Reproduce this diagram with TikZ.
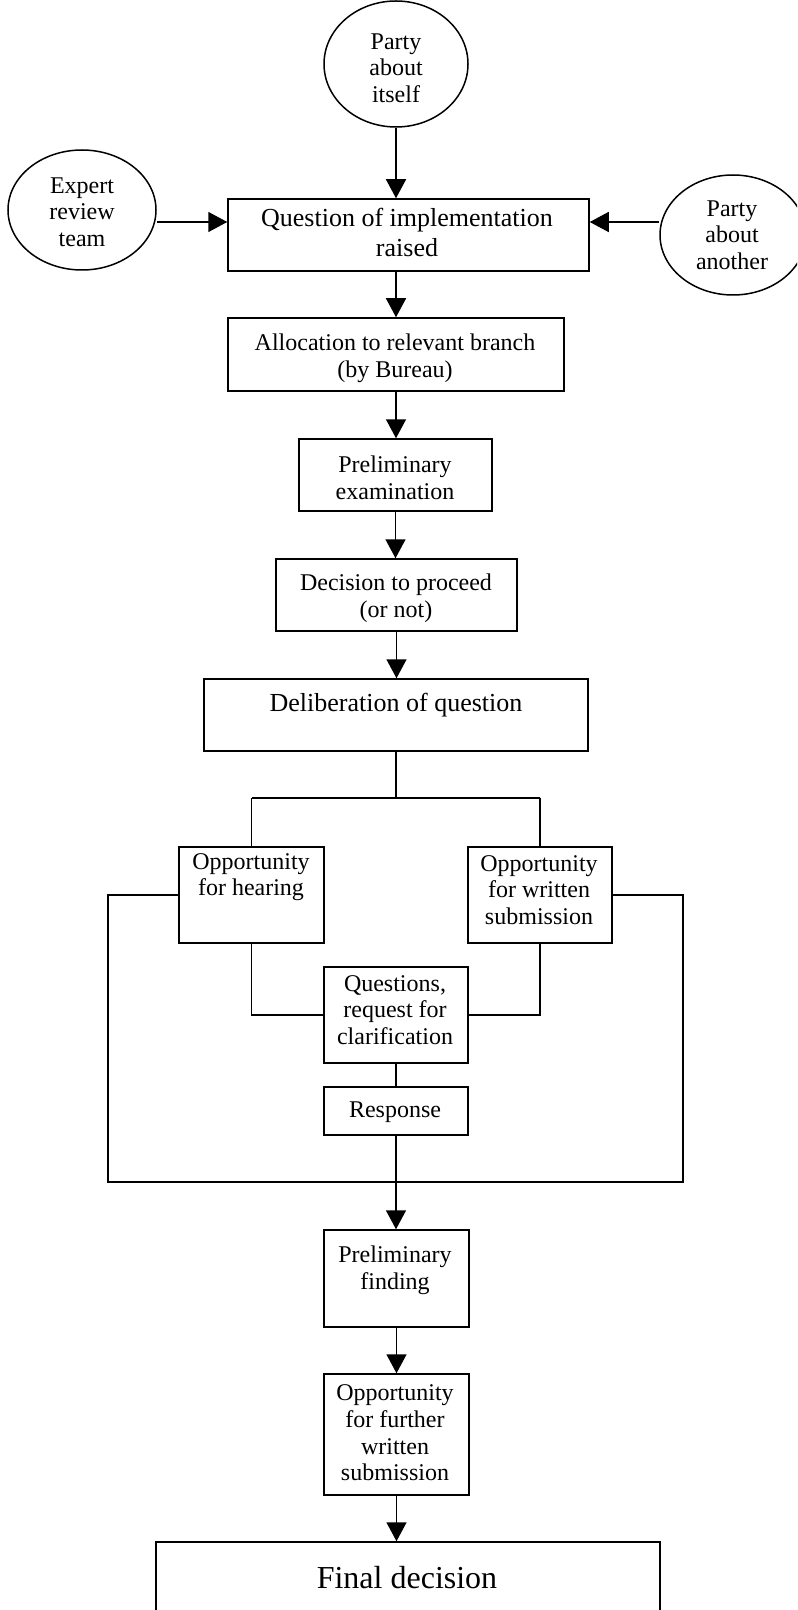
\documentclass[tikz,border=0pt]{standalone}
\usepackage{fontspec}
\setmainfont{Liberation Serif}
\usetikzlibrary{shapes.geometric,arrows.meta,fit,calc}
\begin{document}
\begin{tikzpicture}[x=0.5pt,y=-0.5pt,
  lw/.style={line width=0.75pt},
  box/.style={draw,lw,rectangle,inner sep=0pt},
  oval/.style={draw,lw,ellipse,inner sep=0pt},
  txt/.style={align=center,inner sep=0pt,font=\fontsize{12}{13.35}\selectfont},
  bigtxt/.style={align=center,inner sep=0pt,font=\fontsize{13}{15}\selectfont},
  hugetxt/.style={align=center,inner sep=0pt,font=\fontsize{16}{18}\selectfont},
  conn/.style={draw,lw},
  arr/.style={draw,lw,-{Triangle[width=10pt,length=9.5pt]}}]
\clip (0,0) rectangle (797,1610);
\fill[white] (0,0) rectangle (797,1610);

% sources
\node[oval,minimum width=72pt,minimum height=63pt] (pi) at (396,64) {};
\node[txt] (pit) at (396,68) {Party\\about\\itself};
\node[oval,minimum width=74pt,minimum height=60pt] (ex) at (82,210) {};
\node[txt] (ext) at (82,212) {Expert\\review\\team};
\node[oval,minimum width=73pt,minimum height=60pt] (an) at (733,235) {};
\node[txt] (ant) at (732,235) {Party\\about\\another};

% main boxes
\node[box,fit={(228,199) (589,271)}] (q) {};
\node[bigtxt] (qt) at (407,232) {Question of implementation\\raised};
\node[box,fit={(228,318) (564,391)}] (al) {};
\node[txt] (alt) at (395,358) {Allocation to relevant branch\\(by Bureau)};
\node[box,fit={(299,439) (492,511)}] (pe) {};
\node[txt] (pet) at (395,478) {Preliminary\\examination};
\node[box,fit={(276,559) (517,631)}] (de) {};
\node[txt] (det) at (396,598) {Decision to proceed\\(or not)};
\node[box,fit={(204,679) (588,751)}] (dl) {};
\node[bigtxt] (dlt) at (396,705) {Deliberation of question};

\node[box,fit={(179,847) (324,943)}] (he) {};
\node[txt] (het) at (251,877) {Opportunity\\for hearing};
\node[box,fit={(468,847) (612,943)}] (wr) {};
\node[txt] (wrt) at (539,890) {Opportunity\\for written\\submission};
\node[box,fit={(324,967) (468,1063)}] (qs) {};
\node[txt] (qst) at (395,1010) {Questions,\\request for\\clarification};
\node[box,fit={(324,1087) (468,1135)}] (rs) {};
\node[txt] (rst) at (395,1112) {Response};

\node[box,fit={(324,1230) (469,1327)}] (pf) {};
\node[txt] (pft) at (395,1270) {Preliminary\\finding};
\node[box,fit={(324,1374) (469,1495)}] (of) {};
\node[txt] (oft) at (395,1433) {Opportunity\\for further\\written\\submission};
\node[box,fit={(156,1542) (660,1650)}] (fd) {};
\node[hugetxt] (fdt) at (407,1578) {Final decision};

% helper coordinates
\coordinate (aL) at (0,222);
\coordinate (sp) at (396,798);
\coordinate (lTL) at (108,895);
\coordinate (lBR) at (683,1182);

% connectors
\draw[arr] (pi.south) -- (pi.south |- q.north);
\draw[arr] (ex.east |- aL) -- (q.west |- aL);
\draw[arr] (an.west |- aL) -- (q.east |- aL);
\draw[arr] (al.north |- q.south) -- (al.north);
\draw[arr] (al.south) -- (al.south |- pe.north);
\draw[arr] (pe.south) -- (pe.south |- de.north);
\draw[arr] (de.south) -- (de.south |- dl.north);
\draw[conn] (dl.south) -- (sp);
\draw[conn] (he.north |- sp) -- (wr.north |- sp);
\draw[conn] (he.north |- sp) -- (he.north);
\draw[conn] (wr.north |- sp) -- (wr.north);
\draw[conn] (he.west) -- (lTL) |- (lBR) |- (wr.east);
\draw[conn] (he.south) |- (qs.west);
\draw[conn] (wr.south) |- (qs.east);
\draw[conn] (qs.south) -- (rs.north);
\draw[arr] (rs.south) -- (rs.south |- pf.north);
\draw[arr] (pf.south) -- (pf.south |- of.north);
\draw[arr] (of.south) -- (of.south |- fd.north);
\end{tikzpicture}
\end{document}
